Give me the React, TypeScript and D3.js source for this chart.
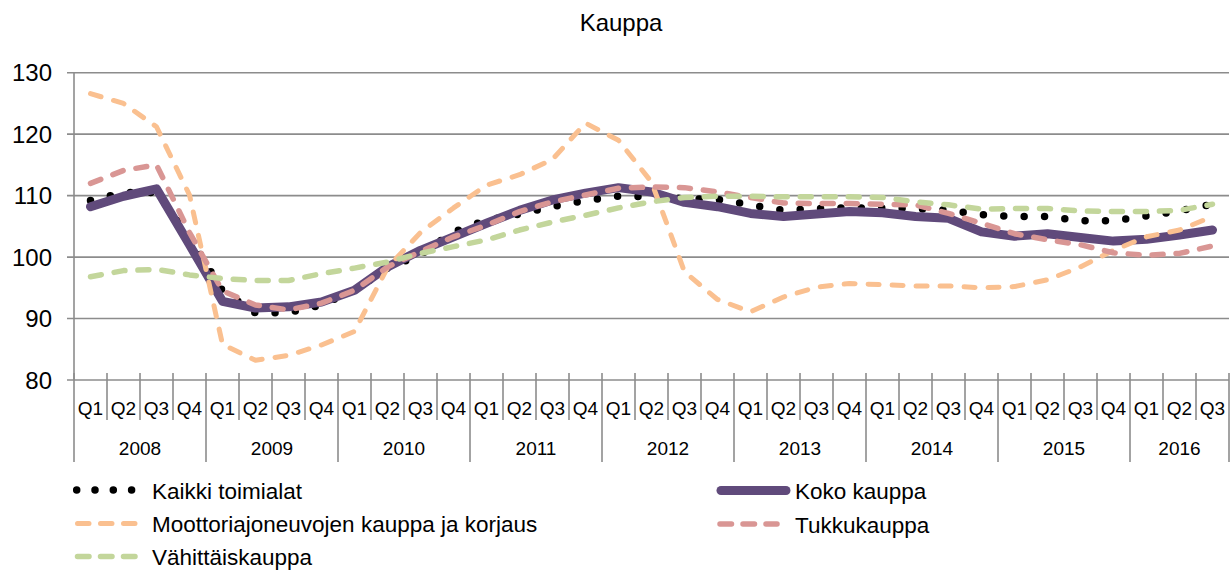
import { useEffect, useRef } from 'react'
import * as d3 from 'd3'

const years = ['2008', '2009', '2010', '2011', '2012', '2013', '2014', '2015', '2016']
const quarterNames = ['Q1', 'Q2', 'Q3', 'Q4']
const quarterCount = 35
const yTicks = [80, 90, 100, 110, 120, 130]

const kaikki = [109.2, 110.5, 110.5, 103.3, 94.5, 90.9, 91.0, 92.2, 94.6, 98.2, 100.4, 104.1, 106.0, 107.0, 108.2, 109.2, 109.9, 109.8, 109.5, 109.4, 108.5, 107.6, 107.9, 108.0, 108.0, 107.9, 107.6, 106.9, 106.6, 106.6, 105.9, 105.9, 106.7, 107.5, 108.6]
const koko = [108.2, 109.9, 111.1, 102.0, 92.8, 91.7, 91.9, 92.7, 94.6, 98.4, 101.1, 103.3, 105.5, 107.6, 109.3, 110.4, 111.3, 110.6, 108.9, 108.2, 107.1, 106.6, 107.0, 107.4, 107.2, 106.6, 106.3, 104.1, 103.4, 103.8, 103.2, 102.6, 102.9, 103.6, 104.4]
const moottori = [126.6, 125.0, 121.2, 110.1, 85.8, 83.2, 84.0, 85.7, 87.9, 98.3, 104.0, 108.0, 111.7, 113.4, 115.9, 121.8, 119.0, 112.2, 97.6, 93.1, 91.1, 93.5, 95.1, 95.7, 95.5, 95.3, 95.3, 95.0, 95.2, 96.3, 98.4, 101.1, 103.3, 104.4, 106.6]
const tukku = [112.0, 114.1, 115.0, 104.0, 94.5, 92.2, 91.4, 92.5, 94.6, 98.4, 100.9, 103.3, 105.2, 107.4, 109.0, 110.1, 111.2, 111.4, 111.3, 110.6, 109.7, 108.8, 108.7, 108.7, 108.6, 108.5, 107.1, 105.5, 103.8, 102.8, 102.0, 100.7, 100.3, 100.6, 101.8]
const vahittais = [96.8, 97.8, 98.0, 97.1, 96.5, 96.2, 96.2, 97.3, 98.2, 99.2, 100.6, 101.7, 102.8, 104.4, 105.7, 106.8, 108.0, 109.0, 109.7, 109.9, 109.9, 109.8, 109.8, 109.8, 109.7, 109.0, 108.5, 107.8, 107.9, 107.9, 107.5, 107.4, 107.4, 107.6, 108.6]

const seriesNames = ['Kaikki toimialat', 'Koko kauppa', 'Moottoriajoneuvojen kauppa ja korjaus', 'Tukkukauppa', 'Vähittäiskauppa']

const FONT = '"Liberation Sans", Arial, sans-serif'

export default function App() {
  const svgRef = useRef<SVGSVGElement | null>(null)

  useEffect(() => {
    const svg = d3.select(svgRef.current)
    svg.selectAll('*').remove()

    const width = 1231
    const height = 570
    const left = 74, right = 1229, top = 72.7, bottom = 380

    const idx = d3.range(quarterCount)
    const x = d3.scaleBand<number>().domain(idx).range([left, right]).padding(0)
    const bw = x.bandwidth()
    const cx = (i: number) => (x(i) as number) + bw / 2
    const y = d3.scaleLinear().domain([80, 130]).range([bottom, top])

    svg.attr('width', width).attr('height', height)
      .style('font-family', FONT)

    // title
    svg.append('text')
      .attr('x', 621).attr('y', 31)
      .attr('text-anchor', 'middle')
      .attr('font-size', 24)
      .attr('fill', '#000')
      .text('Kauppa')

    // grid + y labels
    yTicks.forEach(t => {
      svg.append('line')
        .attr('x1', left - 7).attr('x2', right)
        .attr('y1', y(t)).attr('y2', y(t))
        .attr('stroke', '#8c8c8c').attr('stroke-width', 1.6)
      svg.append('text')
        .attr('x', 52).attr('y', y(t) + 8.5)
        .attr('text-anchor', 'end')
        .attr('font-size', 24)
        .attr('fill', '#000')
        .text(t)
    })

    // y axis
    svg.append('line')
      .attr('x1', left).attr('x2', left)
      .attr('y1', top).attr('y2', bottom)
      .attr('stroke', '#8c8c8c').attr('stroke-width', 1.6)

    // category separators
    d3.range(quarterCount + 1).forEach(i => {
      const xx = i < quarterCount ? (x(i) as number) : right
      const isYear = i % 4 === 0 || i === quarterCount
      svg.append('line')
        .attr('x1', xx).attr('x2', xx)
        .attr('y1', bottom - 7).attr('y2', isYear ? 462 : 420)
        .attr('stroke', '#8c8c8c').attr('stroke-width', 1.6)
    })

    // quarter labels
    idx.forEach(i => {
      svg.append('text')
        .attr('x', cx(i)).attr('y', 415)
        .attr('text-anchor', 'middle')
        .attr('font-size', 19)
        .attr('fill', '#000')
        .text(quarterNames[i % 4])
    })

    // year labels
    years.forEach((yr, j) => {
      const first = j * 4
      const last = Math.min(first + 3, quarterCount - 1)
      const x0 = x(first) as number
      const x1 = (x(last) as number) + bw
      svg.append('text')
        .attr('x', (x0 + x1) / 2).attr('y', 455)
        .attr('text-anchor', 'middle')
        .attr('font-size', 19)
        .attr('fill', '#000')
        .text(yr)
    })

    const line = d3.line<number>()
      .x((_, i) => cx(i))
      .y(d => y(d))

    const styles = [
      { data: kaikki, color: '#000', width: 7.5, dash: '0 20.4' },
      { data: koko, color: '#604a7b', width: 9, dash: null },
      { data: moottori, color: '#fac090', width: 5, dash: '11 13' },
      { data: tukku, color: '#d99694', width: 5.5, dash: '11 13' },
      { data: vahittais, color: '#c3d69b', width: 5.5, dash: '11 13' },
    ]

    styles.forEach(s => {
      const p = svg.append('path')
        .attr('d', line(s.data))
        .attr('fill', 'none')
        .attr('stroke', s.color)
        .attr('stroke-width', s.width)
        .attr('stroke-linecap', 'round')
        .attr('stroke-linejoin', 'round')
      if (s.dash) p.attr('stroke-dasharray', s.dash)
    })

    // legend
    const legend = [
      { s: 0, x0: 76.7, x1: 132, ty: 498.5, tx: 152, ly: 490, dash: '0 18.3' },
      { s: 1, x0: 721, x1: 786, ty: 499, tx: 795, ly: 490.5, dash: null },
      { s: 2, x0: 77.5, x1: 135, ty: 532, tx: 152, ly: 523.5, dash: '11.5 11.5' },
      { s: 3, x0: 720, x1: 777, ty: 532.5, tx: 795, ly: 524, dash: '11.5 11.5' },
      { s: 4, x0: 77.5, x1: 135, ty: 565, tx: 152, ly: 556.5, dash: '11.5 11.5' },
    ]
    legend.forEach(l => {
      const st = styles[l.s]
      const p = svg.append('line')
        .attr('x1', l.x0).attr('x2', l.x1)
        .attr('y1', l.ly).attr('y2', l.ly)
        .attr('stroke', st.color)
        .attr('stroke-width', st.width)
        .attr('stroke-linecap', 'round')
      if (l.dash) p.attr('stroke-dasharray', l.dash)
      svg.append('text')
        .attr('x', l.tx).attr('y', l.ty)
        .attr('font-size', 22.5)
        .attr('fill', '#000')
        .text(seriesNames[l.s])
    })
  }, [])

  return (
    <div style={{ position: 'absolute', left: 0, top: 0, background: '#fff' }}>
      <svg ref={svgRef} style={{ display: 'block' }} />
    </div>
  )
}
